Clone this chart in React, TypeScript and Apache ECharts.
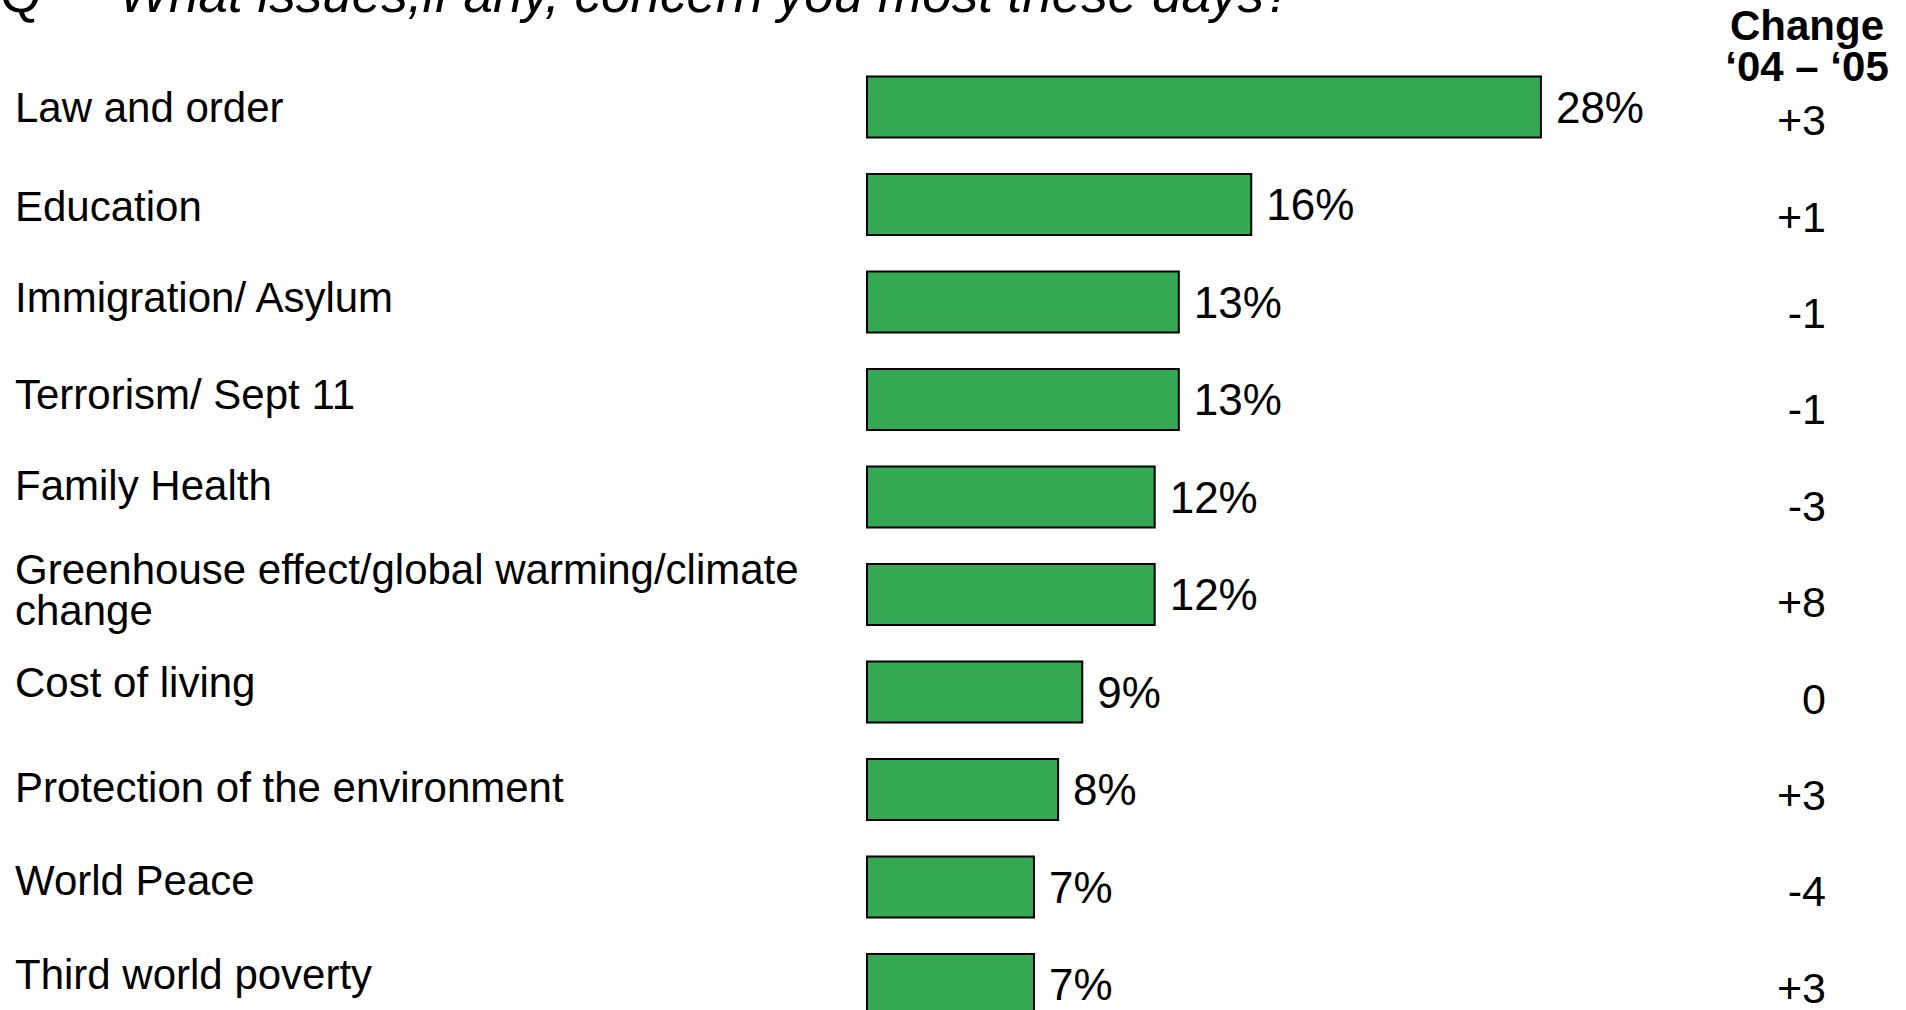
import React, { useEffect, useRef } from "react";
import * as echarts from "echarts";

const categories = [
  "Law and order",
  "Education",
  "Immigration/ Asylum",
  "Terrorism/ Sept 11",
  "Family Health",
  "Greenhouse effect/global warming/climate\nchange",
  "Cost of living",
  "Protection of the environment",
  "World Peace",
  "Third world poverty",
];
const values = [28, 16, 13, 13, 12, 12, 9, 8, 7, 7];
const changes = ["+3", "+1", "-1", "-1", "-3", "+8", "0", "+3", "-4", "+3"];
const titleQ = "Q";
const titleText = "What issues,if any, concern you most these days?";
const headerLines = ["Change", "\u201804 \u2013 \u201805"];

// vertical nudge of each category label (px, positive = up), as in the original slide
const labelNudge = [0, -2, 5, 5, 12, 5, 10, 2, 7, 10];

const FONT = "'Liberation Sans', Arial, Helvetica, sans-serif";

export default function App() {
  const ref = useRef<HTMLDivElement>(null);
  useEffect(() => {
    if (!ref.current) return;
    const chart = echarts.init(ref.current, undefined, { renderer: "svg" });
    const rich = {
      g: { fontSize: 42, lineHeight: 41, color: "#000", fontFamily: FONT },
      z: { fontSize: 10, lineHeight: 10 },
    };
    const labelBase = {
      align: "left",
      fontSize: 42,
      lineHeight: 41,
      color: "#000",
      fontFamily: FONT,
      rich,
    };
    const catData = categories.map((c, i) => {
      const d = labelNudge[i];
      if (d === 0 || c.includes("\n"))
        return { value: c, textStyle: { ...labelBase, verticalAlign: "middle" } };
      return {
        value: c,
        textStyle: {
          ...labelBase,
          verticalAlign: d > 0 ? "bottom" : "top",
          lineHeight: 2 * Math.abs(d),
        },
      };
    });
    const fmt = (v: string) => {
      if (!v.includes("\n")) return v;
      const i = categories.indexOf(v);
      const d = labelNudge[i];
      const lines = v.split("\n").map((s) => `{g|${s}}`).join("\n");
      return d > 0 ? `${lines}\n{z| }` : lines;
    };
    // the z token is 10px high, i.e. it lifts the two lines by 5px
    chart.setOption({
      animation: false,
      backgroundColor: "#ffffff",
      grid: [
        { left: 866, top: 58.25, width: 965.6, height: 975, outerBoundsMode: "none" },
        { left: 1840, top: 72, width: 10, height: 964, outerBoundsMode: "none" },
      ],
      xAxis: [
        { type: "value", min: 0, max: 40, show: false, gridIndex: 0 },
        { type: "value", min: 0, max: 1, show: false, gridIndex: 1 },
      ],
      yAxis: [
        {
          type: "category",
          gridIndex: 0,
          data: catData,
          inverse: true,
          axisLine: { show: false },
          axisTick: { show: false },
          splitLine: { show: false },
          axisLabel: { ...labelBase, margin: 851, formatter: fmt },
        },
        {
          type: "category",
          gridIndex: 1,
          data: changes,
          inverse: true,
          position: "left",
          axisLine: { show: false },
          axisTick: { show: false },
          splitLine: { show: false },
          axisLabel: {
            align: "right",
            margin: 14,
            fontSize: 43,
            color: "#000",
            fontFamily: FONT,
          },
        },
      ],
      series: [
        {
          type: "bar",
          xAxisIndex: 0,
          yAxisIndex: 0,
          data: values,
          barWidth: 63,
          itemStyle: { color: "#34a853", borderColor: "#000", borderWidth: 2 },
          label: {
            show: true,
            position: "right",
            distance: 14,
            formatter: "{c}%",
            fontSize: 44,
            color: "#000",
            fontFamily: FONT,
          },
        },
        {
          type: "scatter",
          xAxisIndex: 1,
          yAxisIndex: 1,
          symbolSize: 0,
          silent: true,
          data: changes.map((_, i) => [0, i]),
        },
      ],
      graphic: [
        {
          type: "text",
          x: 0,
          y: -7,
          style: { text: titleQ, font: `53px ${FONT}`, fill: "#000", verticalAlign: "middle", align: "left" },
        },
        {
          type: "text",
          x: 119,
          y: -7,
          style: { text: titleText, font: `italic 53px ${FONT}`, fill: "#000", verticalAlign: "middle", align: "left" },
        },
        {
          type: "text",
          x: 1807,
          y: 25,
          style: { text: headerLines[0], font: `bold 42px ${FONT}`, fill: "#000", verticalAlign: "middle", align: "center" },
        },
        {
          type: "text",
          x: 1807,
          y: 66,
          style: { text: headerLines[1], font: `bold 42px ${FONT}`, fill: "#000", verticalAlign: "middle", align: "center" },
        },
      ],
    });
    return () => chart.dispose();
  }, []);
  return (
    <div
      ref={ref}
      style={{ position: "fixed", left: 0, top: 0, width: 1906, height: 1100, background: "#fff" }}
    />
  );
}
